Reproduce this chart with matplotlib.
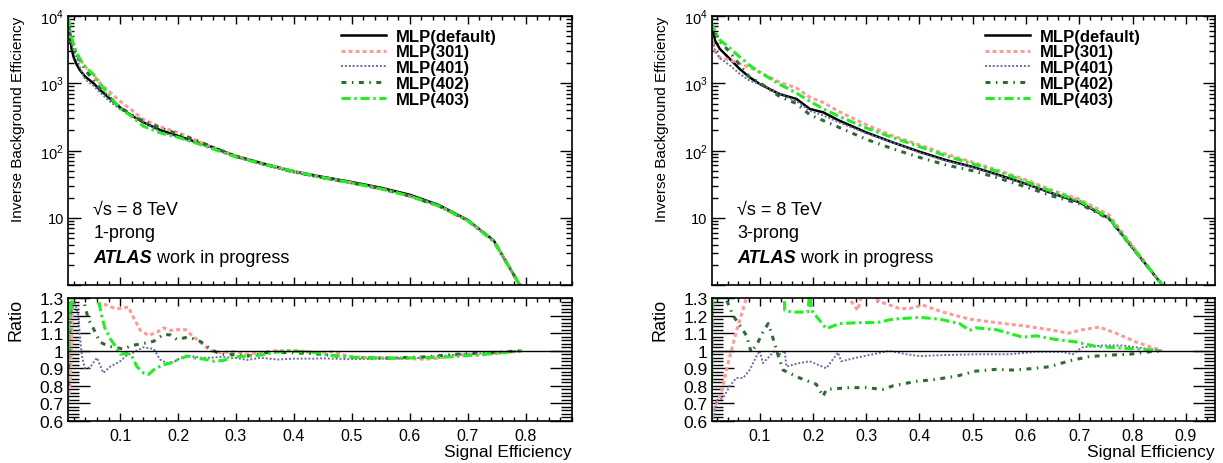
import math
import matplotlib
matplotlib.use('Agg')
import matplotlib.pyplot as plt
from matplotlib.ticker import MultipleLocator, LogLocator, NullFormatter, FuncFormatter

plt.rcParams['font.family'] = ['Liberation Sans', 'DejaVu Sans']
plt.rcParams['mathtext.fontset'] = 'custom'
plt.rcParams['mathtext.rm'] = 'Liberation Sans'

labels = ['MLP(default)', 'MLP(301)', 'MLP(401)', 'MLP(402)', 'MLP(403)']
colors = ['black', '#ff9a9a', '#6b6ba8', '#2f6a2f', '#22ee22']
widths = [1.8, 2.2, 1.4, 2.2, 2.2]
styles = ['-', (0, (1.3, 1.0)), (0, (1, 1)), (0, (1.6, 1.8, 0.5, 1.8)), (0, (3.0, 1.2, 0.8, 1.2))]

# ---- 1-prong (left) ----
x_1p = [0.01, 0.013, 0.016, 0.02, 0.025, 0.031, 0.04, 0.054, 0.065, 0.083, 0.1, 0.12, 0.14, 0.17,
        0.2, 0.23, 0.256, 0.3, 0.35, 0.4, 0.45, 0.5, 0.55, 0.6, 0.65, 0.7, 0.745, 0.79]
eff_1p_default = [9500, 5500, 3300, 2400, 1900, 1550, 1250, 1000, 800, 585, 436, 330, 263, 200,
                  165, 135, 115, 83, 63, 49, 40.5, 34, 28, 22, 15.5, 9.3, 4.6, 1]
eff_1p_301 = [6700, 5500, 4300, 3360, 2750, 2250, 1750, 1320, 1015, 730, 540, 400, 290, 224,
              185, 144, 115, 82, 63, 49, 40, 33, 27, 21, 15, 9.1, 4.5, 1]
eff_1p_401 = [9500, 7000, 4300, 3100, 2400, 1700, 1125, 920, 735, 530, 410, 327, 268, 190,
              157, 131, 110, 80, 60, 47, 38.5, 32.5, 27, 21, 15, 9.1, 4.5, 1]
eff_1p_402 = [7600, 6000, 4300, 3360, 2660, 2170, 1560, 1125, 840, 600, 440, 340, 273, 216,
              176, 144, 116, 81, 62, 48, 39.5, 33, 27, 21, 15, 9.1, 4.5, 1]
eff_1p_403 = [9500, 7400, 4950, 3600, 2850, 2250, 1750, 1350, 1000, 625, 427, 320, 230, 182,
              157, 130, 109, 80, 62, 49, 39.5, 33, 27, 21, 15, 9.1, 4.5, 1]

rx_1p_301 = [0.010, 0.012, 0.014, 0.016, 0.018, 0.025, 0.04, 0.055, 0.062, 0.077, 0.091, 0.103, 0.114,
             0.123, 0.135, 0.149, 0.164, 0.175, 0.187, 0.198, 0.213, 0.224, 0.239, 0.256, 0.273, 0.297,
             0.32, 0.343, 0.366, 0.389, 0.41, 0.435, 0.47, 0.494, 0.53, 0.565, 0.6, 0.624, 0.647, 0.682,
             0.718, 0.753, 0.794]
ry_1p_301 = [0.71, 0.76, 0.83, 1.03, 1.3, 1.42, 1.45, 1.36, 1.27, 1.26, 1.24, 1.24, 1.25, 1.19, 1.116,
             1.087, 1.106, 1.13, 1.116, 1.12, 1.12, 1.087, 1.048, 1.0, 0.99, 0.995, 0.98, 0.99, 1.0, 1.0,
             1.0, 0.99, 0.995, 0.967, 0.96, 0.958, 0.955, 0.952, 0.956, 0.975, 0.975, 0.985, 1.0]
rx_1p_401 = [0.010, 0.013, 0.016, 0.02, 0.024, 0.028, 0.03, 0.034, 0.039, 0.048, 0.06, 0.065, 0.071,
             0.083, 0.1, 0.112, 0.123, 0.14, 0.158, 0.169, 0.18, 0.195, 0.204, 0.221, 0.239, 0.256,
             0.273, 0.297, 0.32, 0.343, 0.372, 0.4, 0.435, 0.447, 0.494, 0.553, 0.612, 0.671, 0.718,
             0.753, 0.794]
ry_1p_401 = [1.3, 1.15, 1.22, 1.28, 1.25, 1.2, 1.106, 0.97, 0.90, 0.905, 0.96, 0.92, 0.874, 0.91, 0.94,
             0.975, 0.99, 1.02, 1.01, 0.95, 0.93, 0.94, 0.96, 0.97, 0.96, 0.96, 0.965, 0.96, 0.948,
             0.96, 0.95, 0.955, 0.955, 0.957, 0.952, 0.955, 0.958, 0.975, 0.985, 0.99, 1.0]
rx_1p_402 = [0.010, 0.012, 0.015, 0.02, 0.03, 0.036, 0.045, 0.054, 0.065, 0.077, 0.088, 0.106, 0.12,
             0.138, 0.158, 0.175, 0.187, 0.198, 0.216, 0.227, 0.239, 0.256, 0.273, 0.29, 0.32, 0.354,
             0.389, 0.424, 0.447, 0.494, 0.565, 0.624, 0.682, 0.741, 0.794]
ry_1p_402 = [0.8, 1.0, 1.3, 1.4, 1.35, 1.3, 1.18, 1.126, 1.05, 1.03, 1.02, 1.01, 1.03, 1.04, 1.054,
             1.093, 1.09, 1.064, 1.077, 1.068, 1.052, 1.01, 0.98, 0.98, 0.97, 0.99, 0.99, 0.985, 0.98,
             0.962, 0.958, 0.965, 0.98, 0.99, 1.0]
rx_1p_403 = [0.009, 0.010, 0.011, 0.012, 0.014, 0.02, 0.04, 0.055, 0.062, 0.068, 0.074, 0.083, 0.091,
             0.1, 0.112, 0.12, 0.129, 0.14, 0.149, 0.161, 0.175, 0.187, 0.204, 0.216, 0.227, 0.245,
             0.262, 0.279, 0.297, 0.32, 0.343, 0.366, 0.389, 0.41, 0.44, 0.459, 0.506, 0.565, 0.612,
             0.653, 0.694, 0.729, 0.765, 0.794]
ry_1p_403 = [0.87, 1.1, 0.95, 1.3, 1.2, 1.45, 1.5, 1.4, 1.3, 1.2, 1.126, 1.068, 1.03, 0.98, 0.985, 0.97,
             0.91, 0.874, 0.865, 0.90, 0.92, 0.93, 0.955, 0.97, 0.96, 0.952, 0.94, 0.945, 0.965, 0.97,
             0.975, 0.99, 1.0, 0.995, 0.99, 0.975, 0.962, 0.958, 0.96, 0.962, 0.971, 0.98, 0.99, 1.0]

# ---- 3-prong (right) ----
x_3p = [0.009, 0.016, 0.025, 0.044, 0.0625, 0.081, 0.1, 0.1375, 0.169, 0.194, 0.219, 0.25, 0.3,
        0.35, 0.4, 0.45, 0.5, 0.55, 0.6, 0.65, 0.7, 0.756, 0.856]
eff_3p_default = [8100, 4350, 3250, 2300, 1630, 1230, 975, 690, 585, 415, 370, 277, 186, 132, 96,
                  72, 57, 43, 32, 23, 17, 9.8, 1]
eff_3p_301 = [5000, 3050, 2400, 2230, 1960, 1720, 1460, 1035, 850, 620, 520, 375, 242, 165, 121,
              88, 67, 50, 36.5, 25.5, 18.9, 11, 1]
eff_3p_401 = [4860, 3050, 2370, 1840, 1380, 1095, 975, 690, 544, 390, 333, 260, 180, 132, 93, 70,
              56, 42, 31.7, 22.9, 17.2, 10.1, 1]
eff_3p_402 = [10000, 5650, 4200, 2900, 1870, 1230, 1020, 635, 500, 340, 280, 219, 147, 106, 79,
              61, 50, 38.5, 28.7, 21, 16.2, 9.6, 1]
eff_3p_403 = [8100, 5900, 4400, 3340, 2450, 1850, 1460, 965, 715, 540, 418, 320, 216, 156, 114,
              83, 63.6, 48, 34.5, 24.5, 17.9, 10, 1]

rx_3p_301 = [0.009, 0.012, 0.019, 0.025, 0.031, 0.0375, 0.044, 0.056, 0.075, 0.1, 0.2, 0.265, 0.272,
             0.284, 0.29, 0.3125, 0.325, 0.3625, 0.381, 0.406, 0.444, 0.494, 0.544, 0.6, 0.644, 0.68,
             0.706, 0.7375, 0.769, 0.806, 0.856]
ry_3p_301 = [0.62, 0.66, 0.70, 0.74, 0.80, 0.89, 0.97, 1.11, 1.30, 1.45, 1.4, 1.32, 1.28, 1.23, 1.3,
             1.32, 1.28, 1.24, 1.24, 1.26, 1.22, 1.18, 1.16, 1.14, 1.12, 1.10, 1.12, 1.135, 1.10, 1.05,
             1.0]
rx_3p_401 = [0.009, 0.0125, 0.019, 0.031, 0.044, 0.056, 0.069, 0.081, 0.094, 0.1, 0.106, 0.119, 0.128,
             0.1375, 0.147, 0.15, 0.175, 0.194, 0.225, 0.247, 0.253, 0.281, 0.3125, 0.344, 0.375, 0.4,
             0.444, 0.506, 0.569, 0.619, 0.669, 0.6875, 0.706, 0.744, 0.781, 0.819, 0.856]
ry_3p_401 = [0.6, 0.60, 0.72, 0.73, 0.80, 0.845, 0.845, 0.89, 0.97, 1.0, 0.93, 0.97, 1.0, 0.98, 1.0,
             0.91, 0.93, 0.94, 0.90, 0.99, 0.94, 0.96, 0.98, 1.0, 0.98, 0.97, 0.975, 0.98, 0.98, 0.994,
             0.994, 0.98, 1.02, 1.03, 1.03, 1.015, 1.0]
rx_3p_402 = [0.009, 0.012, 0.025, 0.0375, 0.05, 0.0625, 0.075, 0.084, 0.097, 0.106, 0.116, 0.122, 0.134,
             0.144, 0.175, 0.206, 0.219, 0.225, 0.269, 0.3, 0.331, 0.35, 0.394, 0.425, 0.469, 0.506,
             0.544, 0.575, 0.606, 0.644, 0.681, 0.719, 0.756, 0.794, 0.831, 0.856]
ry_3p_402 = [1.2, 1.3, 1.32, 1.29, 1.20, 1.145, 1.087, 0.99, 1.05, 1.106, 1.155, 1.10, 0.98, 0.89, 0.845,
             0.81, 0.74, 0.78, 0.79, 0.79, 0.78, 0.80, 0.826, 0.835, 0.855, 0.884, 0.894, 0.89, 0.897,
             0.909, 0.942, 0.967, 0.975, 0.98, 0.994, 1.0]
rx_3p_403 = [0.008, 0.009, 0.010, 0.011, 0.012, 0.02, 0.03, 0.05, 0.1, 0.145, 0.147, 0.16, 0.19, 0.194,
             0.197, 0.2, 0.225, 0.25, 0.2875, 0.32, 0.35, 0.375, 0.4, 0.4375, 0.475, 0.494, 0.506,
             0.544, 0.594, 0.619, 0.656, 0.694, 0.731, 0.781, 0.831, 0.856]
ry_3p_403 = [0.74, 0.95, 0.82, 1.1, 1.3, 1.3, 1.32, 1.5, 1.5, 1.4, 1.23, 1.22, 1.22, 1.33, 1.23, 1.22,
             1.126, 1.155, 1.16, 1.16, 1.18, 1.185, 1.19, 1.18, 1.155, 1.116, 1.13, 1.12, 1.077, 1.085,
             1.064, 1.05, 1.025, 1.015, 1.005, 1.0]


def style_axis(ax, ymaj, ymin):
    ax.tick_params(which='both', direction='in', top=True, right=True, width=1)
    ax.tick_params(which='major', axis='x', length=6)
    ax.tick_params(which='minor', axis='x', length=3)
    ax.tick_params(which='major', axis='y', length=ymaj)
    ax.tick_params(which='minor', axis='y', length=ymin)
    for s in ax.spines.values():
        s.set_linewidth(1.2)


def log_label(v, pos):
    if abs(v - 10) < 1e-6:
        return '10'
    if v >= 100:
        return '$10^{%d}$' % round(math.log10(v))
    return ''


fig = plt.figure(figsize=(12.23, 4.64), dpi=100)

panels = [
    (0.0556, 0.412, x_1p, [eff_1p_default, eff_1p_301, eff_1p_401, eff_1p_402, eff_1p_403],
     [(rx_1p_301, ry_1p_301), (rx_1p_401, ry_1p_401), (rx_1p_402, ry_1p_402), (rx_1p_403, ry_1p_403)],
     0.88, '1-prong'),
    (0.582, 0.4115, x_3p, [eff_3p_default, eff_3p_301, eff_3p_401, eff_3p_402, eff_3p_403],
     [(rx_3p_301, ry_3p_301), (rx_3p_401, ry_3p_401), (rx_3p_402, ry_3p_402), (rx_3p_403, ry_3p_403)],
     0.955, '3-prong'),
]

for left, width, xs, effs, ratios, xmax, prong in panels:
    ax = fig.add_axes([left, 0.3836, width, 0.5797])
    axr = fig.add_axes([left, 0.0905, width, 0.265])

    # upper panel: inverse background efficiency
    for i in range(5):
        ax.plot(xs, effs[i], color=colors[i], lw=widths[i], linestyle=styles[i], label=labels[i])
    ax.set_yscale('log')
    ax.set_xlim(0.01, xmax)
    ax.set_ylim(1, 1e4)
    ax.xaxis.set_major_locator(MultipleLocator(0.1))
    ax.xaxis.set_minor_locator(MultipleLocator(0.02))
    ax.xaxis.set_major_formatter(NullFormatter())
    ax.yaxis.set_major_locator(LogLocator(base=10, numticks=10))
    ax.yaxis.set_minor_locator(LogLocator(base=10, subs=range(2, 10), numticks=10))
    ax.yaxis.set_major_formatter(FuncFormatter(log_label))
    ax.yaxis.set_minor_formatter(NullFormatter())
    style_axis(ax, 9, 4.5)
    ax.tick_params(axis='y', labelsize=10.5, pad=3)
    ax.set_ylabel('Inverse Background Efficiency', fontsize=11, loc='top')
    ax.yaxis.set_label_coords(-0.086, 1.0)

    ax.legend(loc='upper right', bbox_to_anchor=(0.865, 0.978), frameon=False,
              prop={'weight': 'bold', 'size': 12}, labelspacing=0.05,
              handlelength=2.7, handletextpad=0.6, borderaxespad=0)

    ax.text(0.05, 0.2825, '\u221as = 8 TeV', transform=ax.transAxes, fontsize=13, va='center')
    ax.text(0.05, 0.197, prong, transform=ax.transAxes, fontsize=13, va='center')
    t = ax.text(0.05, 0.104, 'ATLAS', transform=ax.transAxes, fontsize=13, va='center',
                fontweight='bold', fontstyle='italic')
    ax.annotate(' work in progress', xy=(1, 0.5), xycoords=t, fontsize=13, va='center')

    # lower panel: ratio to default
    for i, (rx, ry) in enumerate(ratios):
        axr.plot(rx, ry, color=colors[i + 1], lw=widths[i + 1], linestyle=styles[i + 1])
    axr.axhline(1.0, color='black', lw=1)
    axr.set_xlim(0.01, xmax)
    axr.set_ylim(0.6, 1.3)
    axr.xaxis.set_major_locator(MultipleLocator(0.1))
    axr.xaxis.set_minor_locator(MultipleLocator(0.02))
    axr.xaxis.set_major_formatter(FuncFormatter(lambda v, p: '%g' % round(v, 1)))
    axr.yaxis.set_major_locator(MultipleLocator(0.1))
    axr.yaxis.set_minor_locator(MultipleLocator(0.02))
    axr.yaxis.set_major_formatter(FuncFormatter(lambda v, p: '%g' % round(v, 1)))
    style_axis(axr, 16, 8)
    axr.tick_params(axis='x', labelsize=11.5, pad=5)
    axr.tick_params(axis='y', labelsize=12.5, pad=3)
    axr.set_ylabel('Ratio', fontsize=13, loc='top')
    axr.yaxis.set_label_coords(-0.086, 1.0)
    axr.set_xlabel('Signal Efficiency', fontsize=12.5, loc='right')
    axr.xaxis.set_label_coords(1.0, -0.19)

fig.savefig('out.png', dpi=100)
